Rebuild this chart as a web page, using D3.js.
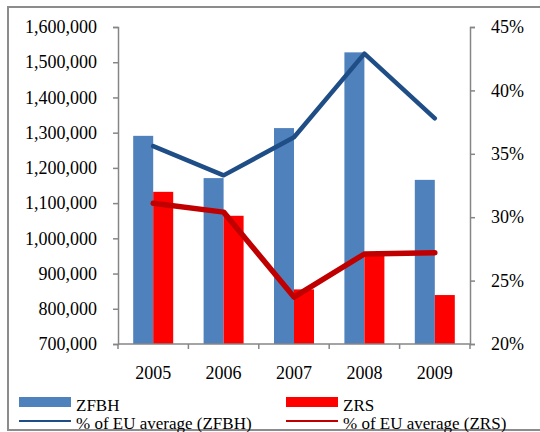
<!DOCTYPE html>
<html>
<head>
<meta charset="utf-8">
<script src="https://cdn.jsdelivr.net/npm/d3@7"></script>
<style>
  body { margin: 0; background: #fff; }
</style>
</head>
<body>
<div class="svg-container"></div>
<script>
const years = ['2005', '2006', '2007', '2008', '2009']
const zfbh = [1291000, 1171000, 1313000, 1528000, 1166000]
const zrs = [1132000, 1064000, 855000, 956000, 839000]
const zfbhPct = [0.356, 0.333, 0.363, 0.429, 0.378]
const zrsPct = [0.311, 0.304, 0.237, 0.271, 0.272]
const leftTicks = [700000, 800000, 900000, 1000000, 1100000, 1200000, 1300000, 1400000, 1500000, 1600000]
const rightTicks = [0.20, 0.25, 0.30, 0.35, 0.40, 0.45]

;(function init() {
  const width = 540
  const height = 432
  const left = 118
  const right = 470
  const top = 27
  const bottom = 344
  const serif = "'Times New Roman', 'Liberation Serif', 'DejaVu Serif', serif"

  const svg = d3
    .select('.svg-container')
    .append('svg')
    .attr('width', width)
    .attr('height', height)
    .style('font-family', serif)

  // outer frame
  svg
    .append('rect')
    .attr('x', 8)
    .attr('y', 7)
    .attr('width', 545)
    .attr('height', 423)
    .attr('fill', 'none')
    .attr('stroke', '#8c8c8c')
    .attr('stroke-width', 2)

  const xScale = d3.scaleBand().domain(years).range([left, right])

  const inner = d3
    .scaleBand()
    .domain(['zfbh', 'zrs'])
    .range([0, 40])

  const yScale = d3.scaleLinear().domain([700000, 1600000]).range([bottom, top])
  const y2Scale = d3.scaleLinear().domain([0.2, 0.45]).range([bottom, top])

  const fmt = d3.format(',')
  const pct = d3.format('.0%')

  // bars
  const groups = svg
    .selectAll('.year')
    .data(years)
    .enter()
    .append('g')
    .attr('transform', (d) => `translate(${xScale(d) + (xScale.bandwidth() - 40) / 2},0)`)

  groups
    .append('rect')
    .attr('x', inner('zfbh'))
    .attr('width', inner.bandwidth())
    .attr('y', (d, i) => yScale(zfbh[i]))
    .attr('height', (d, i) => bottom - yScale(zfbh[i]))
    .attr('fill', '#4F81BD')

  groups
    .append('rect')
    .attr('x', inner('zrs'))
    .attr('width', inner.bandwidth())
    .attr('y', (d, i) => yScale(zrs[i]))
    .attr('height', (d, i) => bottom - yScale(zrs[i]))
    .attr('fill', '#FF0000')

  // axes
  const yAxis = d3.axisLeft(yScale).tickValues(leftTicks).tickFormat(fmt).tickSize(5).tickPadding(16)
  const y2Axis = d3.axisRight(y2Scale).tickValues(rightTicks).tickFormat(pct).tickSize(5).tickPadding(16)
  const xAxis = d3.axisBottom(xScale).tickSize(0).tickPadding(22)

  const gy = svg.append('g').attr('transform', `translate(${left},0)`).call(yAxis)
  const gy2 = svg.append('g').attr('transform', `translate(${right},0)`).call(y2Axis)
  const gx = svg.append('g').attr('transform', `translate(0,${bottom})`).call(xAxis)

  for (const g of [gy, gy2, gx]) {
    g.attr('font-family', null).attr('font-size', null)
    g.select('.domain').attr('stroke', '#868686').attr('stroke-width', 1.5)
    g.selectAll('line').attr('stroke', '#868686').attr('stroke-width', 1.5)
    g.selectAll('text').attr('fill', '#000').style('font-family', serif).style('font-size', '18px')
  }
  gx.select('.domain').attr('d', `M${left},0H${right}`)

  // category separator ticks
  svg
    .selectAll('.sep')
    .data(years.concat(['end']))
    .enter()
    .append('line')
    .attr('x1', (d, i) => left + i * xScale.step())
    .attr('x2', (d, i) => left + i * xScale.step())
    .attr('y1', bottom)
    .attr('y2', bottom + 5)
    .attr('stroke', '#868686')
    .attr('stroke-width', 1.5)

  // lines
  const cx = (d, i) => xScale(years[i]) + xScale.bandwidth() / 2
  const line = d3.line().x(cx).y((d) => y2Scale(d))

  svg
    .append('path')
    .datum(zfbhPct)
    .attr('d', line)
    .attr('fill', 'none')
    .attr('stroke', '#1F4E86')
    .attr('stroke-width', 4.5)
    .attr('stroke-linejoin', 'round')
    .attr('stroke-linecap', 'round')

  svg
    .append('path')
    .datum(zrsPct)
    .attr('d', line)
    .attr('fill', 'none')
    .attr('stroke', '#C00000')
    .attr('stroke-width', 5.5)
    .attr('stroke-linejoin', 'round')
    .attr('stroke-linecap', 'round')

  // legend
  const legend = [
    { label: 'ZFBH', x: 19, y: 397, type: 'bar', color: '#4F81BD' },
    { label: 'ZRS', x: 286, y: 397, type: 'bar', color: '#FF0000' },
    { label: '% of EU average (ZFBH)', x: 19, y: 421, type: 'line', color: '#1F4E86' },
    { label: '% of EU average (ZRS)', x: 286, y: 421, type: 'line', color: '#C00000' }
  ]

  const lg = svg.selectAll('.legend').data(legend).enter().append('g')

  lg.filter((d) => d.type == 'bar')
    .append('rect')
    .attr('x', (d) => d.x)
    .attr('y', (d) => d.y)
    .attr('width', 52)
    .attr('height', 10)
    .attr('fill', (d) => d.color)

  lg.filter((d) => d.type == 'line')
    .append('line')
    .attr('x1', (d) => d.x)
    .attr('x2', (d) => d.x + 52)
    .attr('y1', (d) => d.y)
    .attr('y2', (d) => d.y)
    .attr('stroke', (d) => d.color)
    .attr('stroke-width', 2)

  lg.append('text')
    .attr('x', (d) => d.x + 57)
    .attr('y', (d) => (d.type == 'bar' ? d.y + 14 : d.y + 8))
    .style('font-family', serif)
    .style('font-size', '17px')
    .text((d) => d.label)
})()
</script>
</body>
</html>
